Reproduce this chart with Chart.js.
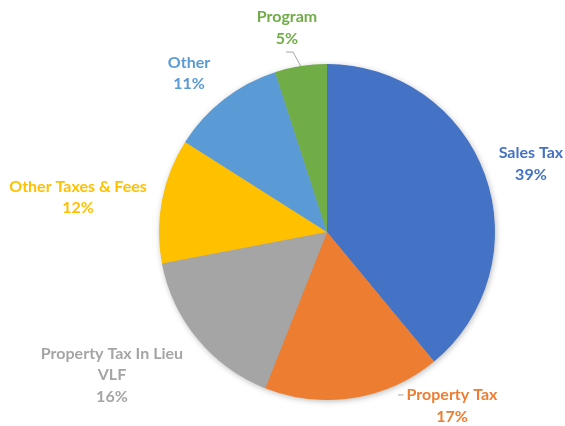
<!DOCTYPE html>
<html>
<head>
<meta charset="utf-8">
<script src="https://cdn.jsdelivr.net/npm/chart.js@4.4.0/dist/chart.umd.min.js"></script>
<style>
  html, body { margin: 0; padding: 0; background: #ffffff; }
  #wrap { width: 565px; height: 426px; }
</style>
</head>
<body>
<div id="wrap"><canvas id="c" width="565" height="426"></canvas></div>
<script>
// ---- data ----
const categories = ["Sales Tax", "Property Tax", "Property Tax In Lieu VLF", "Other Taxes & Fees", "Other", "Program"];
const labelLines = [["Sales Tax"], ["Property Tax"], ["Property Tax In Lieu", "VLF"], ["Other Taxes & Fees"], ["Other"], ["Program"]];
const values = [39, 17, 16, 12, 11, 5];
const colors = ["#4472C4", "#ED7D31", "#A5A5A5", "#FFC000", "#5B9BD5", "#70AD47"];

// label placement, in units of the pie radius, relative to the pie centre
const labelPos = [
  [1.214, -0.405], [0.744, 1.036], [-1.280, 0.851], [-1.482, -0.205], [-0.821, -0.943], [-0.238, -1.214]
];
// leader lines (in radius units): list of points; "arc" means the slice mid-angle point on the rim
const leaders = {
  1: [[0.423, 0.970], [0.455, 0.970]],
  5: ["arc", [-0.202, -1.071], [-0.244, -1.071]]
};

const labelPlugin = {
  id: 'pieLabels',
  beforeDatasetsDraw(chart) {
    const meta = chart.getDatasetMeta(0);
    const a = meta.data[0];
    const ctx = chart.ctx;
    ctx.save();
    ctx.shadowColor = 'rgba(0,0,0,0.30)';
    ctx.shadowBlur = 6;
    ctx.shadowOffsetX = 1;
    ctx.shadowOffsetY = 1.5;
    ctx.fillStyle = '#A5A5A5';
    ctx.beginPath();
    ctx.arc(a.x, a.y, a.outerRadius - 0.5, 0, Math.PI * 2);
    ctx.fill();
    ctx.restore();
  },
  afterDatasetsDraw(chart) {
    const meta = chart.getDatasetMeta(0);
    const ctx = chart.ctx;
    const total = values.reduce((s, v) => s + v, 0);
    ctx.save();
    ctx.font = 'bold 16px Lato, "Open Sans", sans-serif';
    ctx.textAlign = 'center';
    ctx.textBaseline = 'middle';
    const lh = 21.5;
    meta.data.forEach((arc, i) => {
      const cx = arc.x, cy = arc.y, r = arc.outerRadius;
      // leader
      if (leaders[i]) {
        const mid = (arc.startAngle + arc.endAngle) / 2;
        const pts = leaders[i].map(p => p === 'arc'
          ? [cx + Math.cos(mid) * r, cy + Math.sin(mid) * r]
          : [cx + p[0] * r, cy + p[1] * r]);
        ctx.strokeStyle = '#A6A6A6';
        ctx.lineWidth = 1;
        ctx.beginPath();
        ctx.moveTo(pts[0][0], pts[0][1]);
        for (let k = 1; k < pts.length; k++) ctx.lineTo(pts[k][0], pts[k][1]);
        ctx.stroke();
      }
      const pct = Math.round(values[i] / total * 100) + '%';
      const lines = labelLines[i].concat([pct]);
      const lx = cx + labelPos[i][0] * r;
      const ly = cy + labelPos[i][1] * r;
      ctx.fillStyle = colors[i];
      const y0 = ly - (lines.length - 1) * lh / 2;
      lines.forEach((t, k) => ctx.fillText(t, lx, y0 + k * lh));
    });
    ctx.restore();
  }
};

new Chart(document.getElementById('c'), {
  type: 'pie',
  data: {
    labels: categories,
    datasets: [{
      data: values,
      backgroundColor: colors,
      borderWidth: 0,
      hoverOffset: 0
    }]
  },
  options: {
    responsive: false,
    animation: false,
    layout: { padding: { top: 64, bottom: 26, left: 159, right: 70 } },
    plugins: {
      legend: { display: false },
      tooltip: { enabled: false }
    }
  },
  plugins: [labelPlugin]
});
</script>
</body>
</html>
